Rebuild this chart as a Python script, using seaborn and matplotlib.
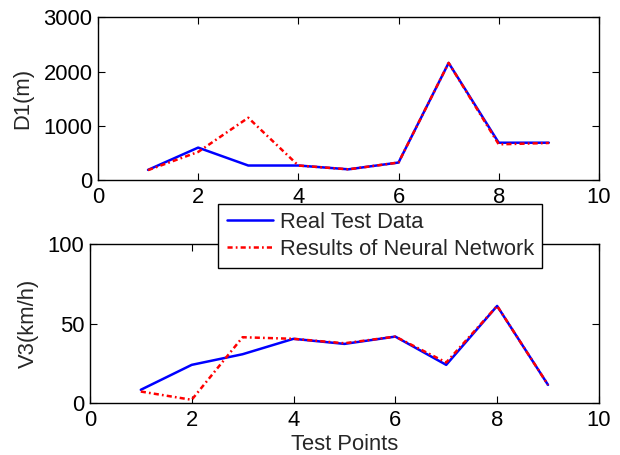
import numpy as np
import pandas as pd
import matplotlib
matplotlib.use("Agg")
import matplotlib.pyplot as plt
import seaborn as sns

# values
test_points = [1, 2, 3, 4, 5, 6, 7, 8, 9]
d1_real = [190, 600, 270, 270, 200, 325, 2160, 690, 690]
d1_nn = [185, 520, 1150, 270, 200, 325, 2160, 660, 685]
v3_real = [8.4, 24.1, 30.8, 40.5, 37.3, 41.9, 24.1, 61.2, 11.5]
v3_nn = [7.3, 2.1, 41.5, 40.5, 37.7, 41.9, 25.6, 61.2, 11.5]

label_real = 'Real Test Data'
label_nn = 'Results of Neural Network'

sns.set_style('white')
plt.rcParams['font.family'] = ['Liberation Sans', 'DejaVu Sans']
plt.rcParams['font.size'] = 15.8
plt.rcParams['axes.linewidth'] = 1.0

# matlab-ish dash-dot
dashdot = (0, (2.05, 1.25, 0.7, 1.25))

fig = plt.figure(figsize=(6.2, 4.55), dpi=100)
ax1 = fig.add_axes([0.158, 0.604, 0.808, 0.358])
ax2 = fig.add_axes([0.145, 0.114, 0.821, 0.349])

sns.lineplot(x=test_points, y=d1_real, ax=ax1, color='#0000ff', lw=1.8, label=label_real)
sns.lineplot(x=test_points, y=d1_nn, ax=ax1, color='#ff0000', lw=1.8, linestyle=dashdot, label=label_nn)
sns.lineplot(x=test_points, y=v3_real, ax=ax2, color='#0000ff', lw=1.8, label=label_real)
sns.lineplot(x=test_points, y=v3_nn, ax=ax2, color='#ff0000', lw=1.8, linestyle=dashdot, label=label_nn)

ax1.set_xlim(0, 10)
ax1.set_ylim(0, 3000)
ax1.set_xticks([0, 2, 4, 6, 8, 10])
ax1.set_yticks([0, 1000, 2000, 3000])
ax1.set_ylabel('D1(m)', labelpad=7)
ax1.get_legend().remove()

ax2.set_xlim(0, 10)
ax2.set_ylim(0, 100)
ax2.set_xticks([0, 2, 4, 6, 8, 10])
ax2.set_yticks([0, 50, 100])
ax2.set_ylabel('V3(km/h)', labelpad=6)
ax2.set_xlabel('Test Points', labelpad=2)

for ax in (ax1, ax2):
    for s in ax.spines.values():
        s.set_visible(True)
        s.set_color('black')
    ax.tick_params(direction='in', length=5, width=0.8, top=True, right=True,
                   bottom=True, left=True, labelsize=15.8, colors='black')
    ax.tick_params(axis='x', pad=5)
    ax.tick_params(axis='y', pad=4)

leg = ax2.legend(loc='upper left', bbox_to_anchor=(0.352, 0.552), bbox_transform=fig.transFigure,
                 borderaxespad=0, fancybox=False, edgecolor='black', framealpha=1,
                 fontsize=15.8, handlelength=2.1, handletextpad=0.32, labelspacing=0.27,
                 borderpad=0.38)
leg.get_frame().set_linewidth(1.0)

fig.savefig('out.png', dpi=100)
